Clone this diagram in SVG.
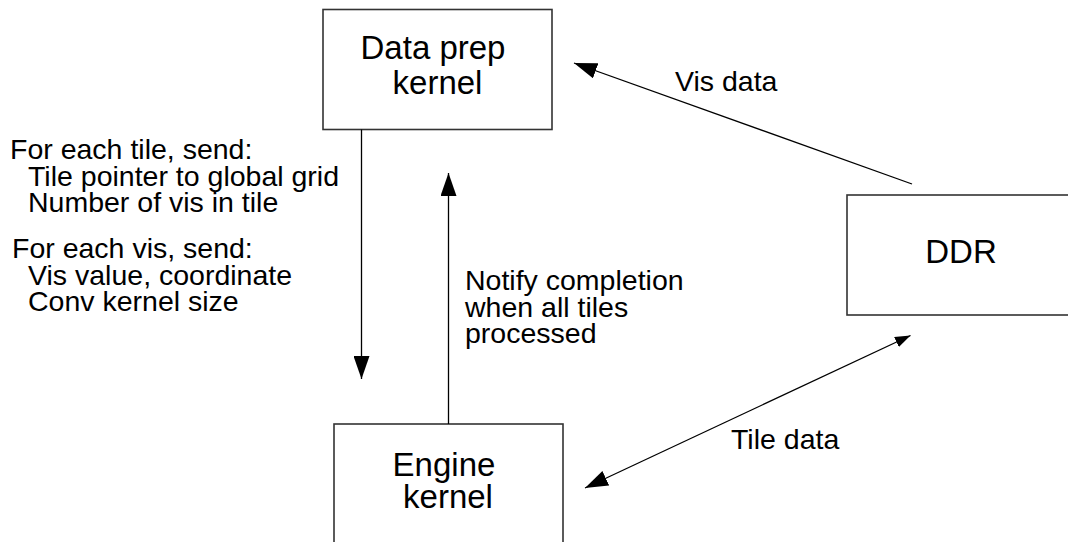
<svg xmlns="http://www.w3.org/2000/svg" width="1068" height="542" viewBox="0 0 1068 542">
  <style>
    .box { fill: #ffffff; stroke: #333333; stroke-width: 1.6; }
    .node-label { font-family: "Liberation Sans", Arial, sans-serif; font-size: 33px; fill: #000000; text-anchor: middle; }
    .label { font-family: "Liberation Sans", Arial, sans-serif; font-size: 28.5px; fill: #000000; }
    .wire { stroke: #000000; stroke-width: 1.3; fill: none; }
  </style>
  <defs>
    <marker id="head" markerUnits="userSpaceOnUse" markerWidth="24" markerHeight="16" refX="23" refY="8" orient="auto-start-reverse">
      <path d="M0,0 L23,8 L0,16 Z" fill="#000000"/>
    </marker>
    <marker id="head-small" markerUnits="userSpaceOnUse" markerWidth="16" markerHeight="11" refX="15.5" refY="5.5" orient="auto">
      <path d="M0,0 L15.5,5.5 L0,11 Z" fill="#000000"/>
    </marker>
  </defs>

  <rect width="1068" height="542" fill="#ffffff"/>

  <g id="data-prep-kernel">
    <rect class="box" x="323" y="9.5" width="229" height="120"/>
    <text class="node-label" x="433" y="59">Data prep</text>
    <text class="node-label" x="437.5" y="94">kernel</text>
  </g>

  <g id="engine-kernel">
    <rect class="box" x="334" y="424" width="229" height="150"/>
    <text class="node-label" x="444" y="476">Engine</text>
    <text class="node-label" x="448" y="508">kernel</text>
  </g>

  <g id="ddr">
    <rect class="box" x="847" y="195" width="229" height="120"/>
    <text class="node-label" x="961" y="263">DDR</text>
  </g>

  <g id="connectors">
    <line class="wire" x1="361.5" y1="129.5" x2="361.5" y2="379" marker-end="url(#head)"/>
    <line class="wire" x1="448.5" y1="424" x2="448.5" y2="173" marker-end="url(#head)"/>
    <line class="wire" x1="912" y1="184" x2="574" y2="63" marker-end="url(#head)"/>
    <line class="wire" x1="585" y1="488" x2="910.5" y2="335.5" marker-start="url(#head)" marker-end="url(#head-small)"/>
  </g>

  <g id="labels">
    <text class="label" x="10" y="159">For each tile, send:</text>
    <text class="label" x="28" y="186">Tile pointer to global grid</text>
    <text class="label" x="28" y="212">Number of vis in tile</text>
    <text class="label" x="12" y="258">For each vis, send:</text>
    <text class="label" x="28" y="285">Vis value, coordinate</text>
    <text class="label" x="28" y="311">Conv kernel size</text>

    <text class="label" x="465" y="290">Notify completion</text>
    <text class="label" x="465" y="317">when all tiles</text>
    <text class="label" x="465" y="343">processed</text>

    <text class="label" x="675" y="91">Vis data</text>
    <text class="label" x="731" y="449">Tile data</text>
  </g>
</svg>
